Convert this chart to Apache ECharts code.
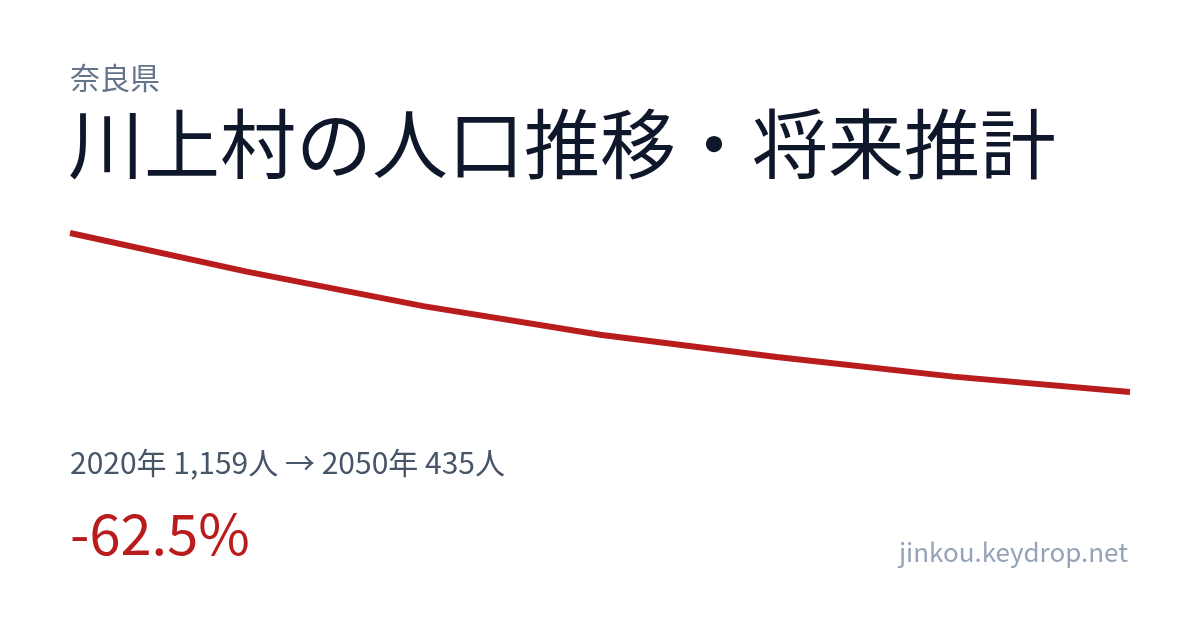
<!DOCTYPE html>
<html>
<head>
<meta charset="utf-8">
<script src="https://cdn.jsdelivr.net/npm/echarts@6/dist/echarts.min.js"></script>
<style>
html,body{margin:0;padding:0;background:#fff;}
#chart{width:1200px;height:630px;}
</style>
</head>
<body>
<div id="chart"></div>
<script>
const years = ['2020', '2025', '2030', '2035', '2040', '2045', '2050'];
const population = [1159, 983, 826, 696, 594, 505, 435];
const prefecture = '奈良県';
const titleText = '川上村の人口推移・将来推計';
const summaryText = '2020年 1,159人 → 2050年 435人';
const changeText = '-62.5%';
const siteText = 'jinkou.keydrop.net';

const FONT = '"Noto Sans CJK JP", "Noto Sans", sans-serif';
const chart = echarts.init(document.getElementById('chart'), null, {renderer: 'canvas'});
chart.setOption({
  backgroundColor: '#ffffff',
  animation: false,
  grid: {left: 70, right: 70, top: 233, bottom: 238, containLabel: false},
  xAxis: {type: 'category', data: years, boundaryGap: false, show: false},
  yAxis: {type: 'value', min: Math.min(...population), max: Math.max(...population), show: false},
  series: [{
    type: 'line',
    data: population,
    showSymbol: false,
    symbol: 'none',
    smooth: false,
    lineStyle: {color: '#b91c1c', width: 6}
  }],
  graphic: [
    {type: 'text', left: 70, top: 63, style: {text: prefecture, font: '30px ' + FONT, fill: '#64748b'}},
    {type: 'text', left: 68, top: 106, style: {text: titleText, font: '76px ' + FONT, fill: '#0f172a'}},
    {type: 'text', left: 70, top: 448, style: {text: summaryText, font: '30px ' + FONT, fill: '#475569'}},
    {type: 'text', left: 70, top: 506, style: {text: changeText, font: '56px ' + FONT, fill: '#b91c1c'}},
    {type: 'text', right: 72, top: 539, style: {text: siteText, font: '26px ' + FONT, fill: '#94a3b8'}}
  ]
});
</script>
</body>
</html>
